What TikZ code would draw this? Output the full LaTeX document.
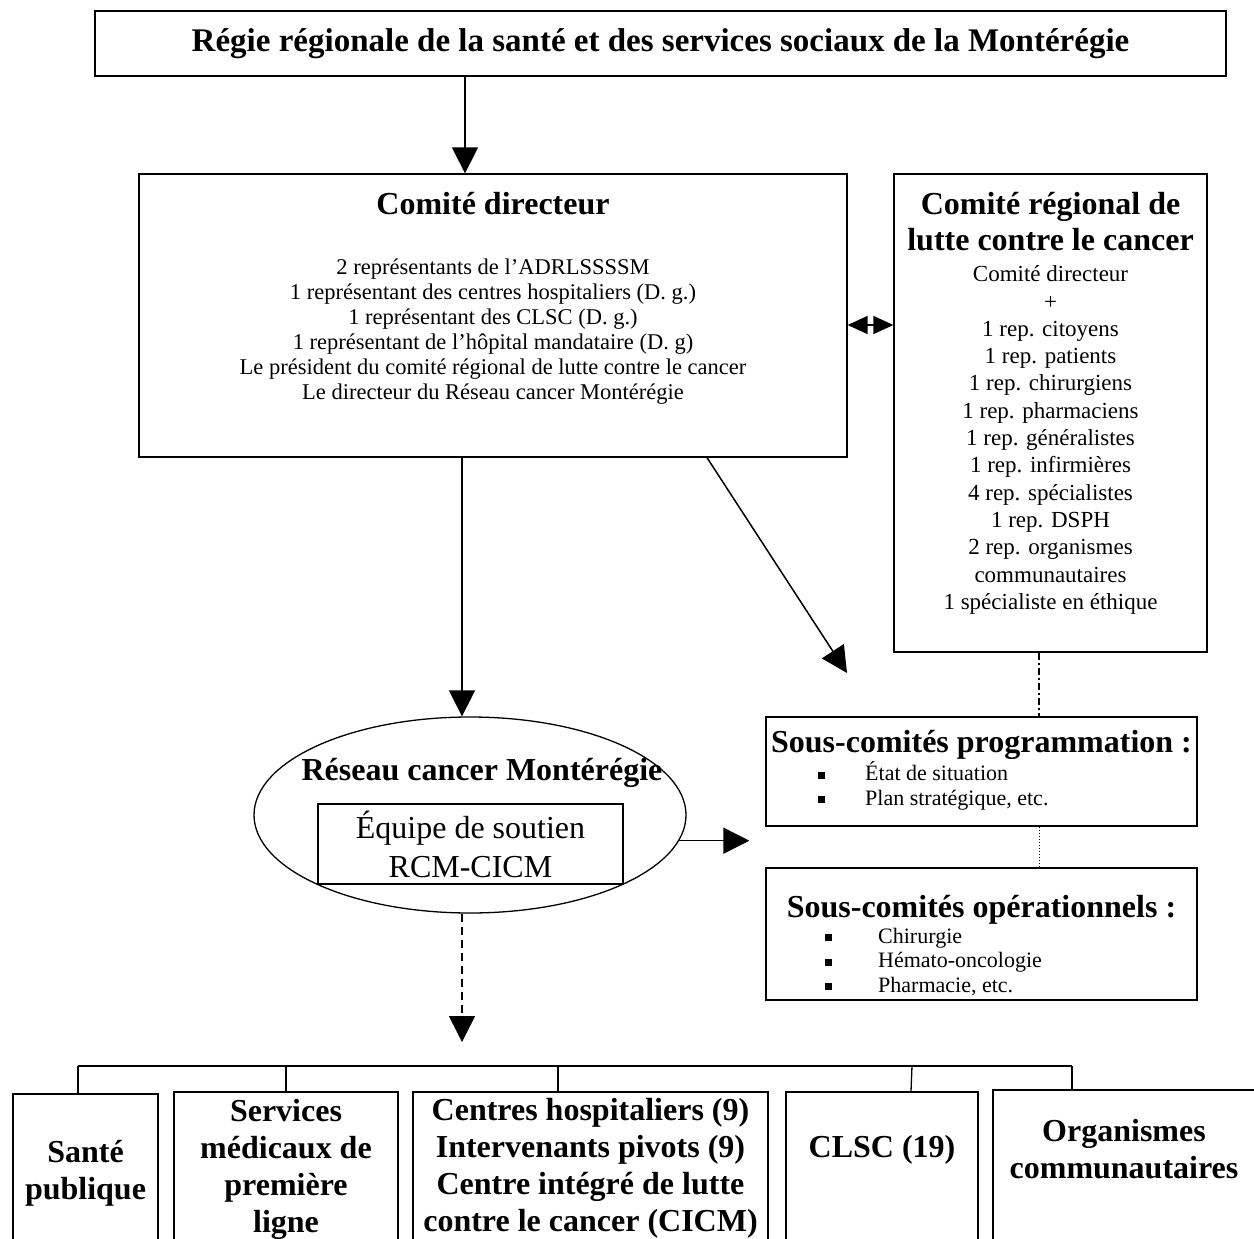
\documentclass[tikz,border=0pt]{standalone}
\usepackage{fontspec}
\setmainfont{Liberation Serif}
\usetikzlibrary{arrows.meta,shapes.geometric}

\newcommand{\sqbul}{\raisebox{0.2ex}{\rule{7pt}{7pt}}}

\begin{document}
\begin{tikzpicture}[x=1pt,y=-1pt,
    box/.style={draw, line width=1.3pt, rectangle, inner sep=0pt},
    big/.style={inner sep=0pt, align=center, font=\fontsize{32}{37}\selectfont\bfseries},
    body/.style={inner sep=0pt, align=center, font=\fontsize{23}{27.3}\selectfont},
    bul/.style={inner sep=0pt, align=left, font=\fontsize{22}{24.5}\selectfont},
    link/.style={line width=1.5pt, -{Triangle[length=26pt,width=26pt]}},
    bus/.style={line width=1.3pt}]
  \clip (0,0) rectangle (1254,1239);

  % boxes
  \node[box, minimum width=1131pt, minimum height=65pt,
        font=\fontsize{33}{38}\selectfont\bfseries] (regie) at (660.5,43.5)
        {Régie régionale de la santé et des services sociaux de la Montérégie};
  \node[box, minimum width=708pt, minimum height=283pt] (cdir) at (493,315.5) {};
  \node[box, minimum width=313pt, minimum height=478pt] (creg) at (1050.5,413) {};
  \node[draw, ellipse, line width=1.3pt, inner sep=0pt,
        minimum width=432pt, minimum height=196pt] (reseau) at (470,815) {};
  \node[box, minimum width=305pt, minimum height=80pt, align=center,
        font=\fontsize{32}{39}\selectfont] (equipe) at (470.5,844)
        {Équipe de soutien\\RCM-CICM};
  \node[box, minimum width=431pt, minimum height=109pt] (sprog) at (981.5,771.5) {};
  \node[box, minimum width=431pt, minimum height=132pt] (sop) at (981.5,934) {};

  % texts
  \node[big] (cdirtitle) at (493,204) {Comité directeur};
  \node[body, font=\fontsize{22.5}{25}\selectfont] (cdirlist) at (493,332)
    {2 représentants de l’ADRLSSSSM\\
     1 représentant des centres hospitaliers (D. g.)\\
     1 représentant des CLSC (D. g.)\\
     1 représentant de l’hôpital mandataire (D. g)\\
     Le président du comité régional de lutte contre le cancer\\
     Le directeur du Réseau cancer Montérégie};
  \node[big, font=\fontsize{32}{36}\selectfont\bfseries] (cregtitle) at (1050.5,222)
    {Comité régional de\\lutte contre le cancer};
  \node[body] (creglist) at (1050.5,440)
    {Comité directeur\\ +\\ 1 rep. citoyens\\ 1 rep. patients\\
     1 rep. chirurgiens\\ 1 rep. pharmaciens\\ 1 rep. généralistes\\
     1 rep. infirmières\\ 4 rep. spécialistes\\ 1 rep. DSPH\\
     2 rep. organismes\\ communautaires\\ 1 spécialiste en éthique};
  \node[big] (reseautitle) at (482,773) {Réseau cancer Montérégie};
  \node[big] (sprogtitle) at (981.5,745) {Sous-comités programmation :};
  \node[bul, anchor=west] (sprogitems) at (818,786)
    {\makebox[47pt][l]{\sqbul}État de situation\\
     \makebox[47pt][l]{\sqbul}Plan stratégique, etc.};
  \node[big] (soptitle) at (981.5,910) {Sous-comités opérationnels :};
  \node[bul, anchor=west] (sopitems) at (825,962)
    {\makebox[53pt][l]{\sqbul}Chirurgie\\
     \makebox[53pt][l]{\sqbul}Hémato-oncologie\\
     \makebox[53pt][l]{\sqbul}Pharmacie, etc.};

  % bottom row
  \node[box, line width=1.5pt, minimum width=145pt, minimum height=151pt] (sante) at (85.5,1169.5) {};
  \node[box, line width=1.5pt, minimum width=224pt, minimum height=153pt] (services) at (286,1168.5) {};
  \node[box, line width=1.5pt, minimum width=355pt, minimum height=153pt] (centres) at (590.5,1168.5) {};
  \node[box, line width=1.5pt, minimum width=192pt, minimum height=153pt] (clsc) at (882,1168.5) {};
  \node[box, line width=1.5pt, minimum width=269pt, minimum height=155pt] (organismes) at (1127.5,1167.5) {};
  \node[big] (santetxt) at (85.5,1173) {Santé\\publique};
  \node[big] (servtxt) at (286,1169) {Services\\médicaux de\\première\\ligne};
  \node[big] (centrestxt) at (590.5,1168)
    {Centres hospitaliers (9)\\Intervenants pivots (9)\\Centre intégré de lutte\\contre le cancer (CICM)};
  \node[big] (clsctxt) at (882,1150) {CLSC (19)};
  \node[big] (orgtxt) at (1124,1149) {Organismes\\communautaires};

  % connectors
  \coordinate (topaxis) at (465,0);
  \coordinate (axis) at (462,0);
  \coordinate (dbl) at (0,325);
  \coordinate (diagtip) at (847,673);
  \coordinate (vlink) at (1039,0);
  \coordinate (fanout) at (462,1042);
  \draw[link] (regie.south -| topaxis) -- (cdir.north -| topaxis);
  \draw[link] (cdir.south -| axis) -- (reseau.north -| axis);
  \draw[link] ([xshift=214pt]cdir.south) -- (diagtip);
  \draw[line width=1.5pt, {Triangle[length=20pt,width=18pt]}-{Triangle[length=20pt,width=18pt]}]
    (cdir.east |- dbl) -- (creg.west |- dbl);
  \draw[link] (reseau.-7.5) -- ([xshift=-16pt]sprog.west |- reseau.-7.5);
  \draw[line width=1.2pt, dash pattern=on 7pt off 3pt on 2pt off 3pt]
    (creg.south -| vlink) -- (sprog.north -| vlink);
  \draw[line width=1pt, dotted] (sprog.south -| vlink) -- (sop.north -| vlink);
  \draw[link, dash pattern=on 8pt off 5pt] (reseau.south -| axis) -- (fanout);

  \coordinate (busL) at (78,1066);
  \coordinate (busR) at (1072,1066);
  \coordinate (dcent) at (558,1066);
  \coordinate (dclsc) at (912,1066);
  \draw[bus] (busL) -- (busR);
  \draw[bus] (busL) -- (sante.north -| busL);
  \draw[bus] (services.north |- busL) -- (services.north);
  \draw[bus] (dcent) -- (centres.north -| dcent);
  \draw[bus] (dclsc) -- ([xshift=29pt]clsc.north);
  \draw[bus] (busR) -- (organismes.north -| busR);
\end{tikzpicture}
\end{document}
